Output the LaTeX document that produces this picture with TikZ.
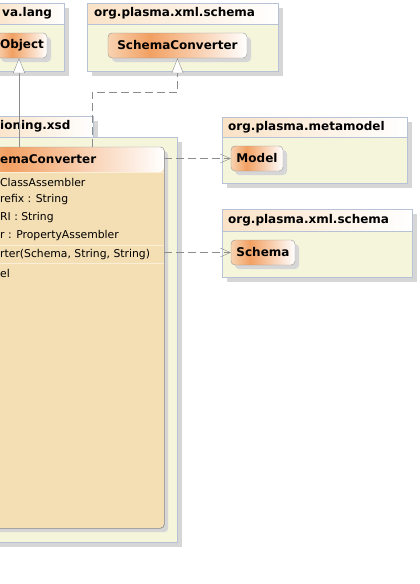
\documentclass[tikz,border=0pt]{standalone}
\usepackage{fontspec}
\setmainfont{DejaVu Sans}
\usepackage{tikz}
\usetikzlibrary{positioning, arrows.meta, shadows}
\usepackage{xcolor}
\definecolor{pkgFill}{RGB}{245,245,220}
\definecolor{pkgLine}{RGB}{184,194,214}
\definecolor{tabTint}{RGB}{250,226,198}
\definecolor{clsLine}{RGB}{150,150,150}
\definecolor{clsBody}{RGB}{244,222,180}
\definecolor{clsSep}{RGB}{250,238,214}
\definecolor{hdrLight}{RGB}{248,210,176}
\definecolor{hdrDeep}{RGB}{242,160,98}
\definecolor{shadowGray}{RGB}{214,214,214}
\definecolor{linkGray}{RGB}{140,140,140}
\pgfdeclarehorizontalshading{classhead}{100bp}{color(0bp)=(hdrLight); color(25bp)=(hdrLight); color(40bp)=(hdrDeep); color(75bp)=(white); color(100bp)=(white)}

\begin{document}
\begin{tikzpicture}[x=1pt, y=-1pt, font=\fontsize{12}{14}\selectfont\bfseries,
  pkg/.style={draw=pkgLine, fill=pkgFill,
    drop shadow={shadow xshift=5pt, shadow yshift=-5pt, fill=shadowGray, opacity=1}},
  pkgtab/.style={pkg, left color=tabTint, right color=white},
  tablabel/.style={anchor=west, inner sep=0pt},
  classbox/.style={draw=clsLine, rounded corners=4pt, shade, shading=classhead,
    minimum height=25pt, inner sep=0pt,
    drop shadow={shadow xshift=4pt, shadow yshift=-4pt, fill=shadowGray, opacity=1}},
  bigclass/.style={draw=clsLine, fill=clsBody, rounded corners=4pt,
    drop shadow={shadow xshift=4pt, shadow yshift=-4pt, fill=shadowGray, opacity=1}},
  member/.style={anchor=west, inner sep=0pt, font=\fontsize{10.8}{13}\selectfont},
  gen/.style={draw=linkGray, -{Triangle[length=15pt, width=12pt, fill=white]}},
  real/.style={gen, dash pattern=on 8pt off 4pt},
  dep/.style={draw=linkGray, dash pattern=on 8pt off 4pt, -{Straight Barb[length=10pt, width=9pt]}}]
  \useasboundingbox (0,0) rectangle (420,584);
  \clip (0,0) rectangle (420,584);

  % packages
  \draw[pkgtab] (-10,3) rectangle (64,24);
  \draw[pkg] (-10,24) rectangle (64,71);
  \node[tablabel] (langlbl) at (2,13.5) {va.lang};

  \draw[pkgtab] (87,3) rectangle (278,24);
  \draw[pkg] (87,24) rectangle (278,71);
  \node[tablabel] (xmltoplbl) at (94,13.5) {org.plasma.xml.schema};

  \draw[pkgtab] (-10,116) rectangle (93,137);
  \draw[pkg] (-10,137) rectangle (177,542);
  \node[tablabel] (xsdlbl) at (0,126.5) {ioning.xsd};

  \draw[pkgtab] (222,117) rectangle (407,137);
  \draw[pkg] (222,137) rectangle (407,183);
  \node[tablabel] (metalbl) at (228,127) {org.plasma.metamodel};

  \draw[pkgtab] (222,209) rectangle (412,231);
  \draw[pkg] (222,231) rectangle (412,277);
  \node[tablabel] (xmllbl) at (228,220) {org.plasma.xml.schema};

  % classes
  \node[classbox, minimum width=50pt] (object) at (22,45.5) {Object};
  \node[classbox, minimum width=139pt] (sconv) at (177.5,45.5) {SchemaConverter};
  \node[classbox, minimum width=52pt] (model) at (257,158.5) {Model};
  \node[classbox, minimum width=64pt] (schema) at (263,252.5) {Schema};

  \node[bigclass, minimum width=224pt, minimum height=381pt, anchor=north west] (conv) at (-60,147) {};
  \shade[shading=classhead, rounded corners=4pt] (conv.north west) rectangle (164,172);
  \draw[clsSep] (-60,172) -- (164,172);
  \draw[clsSep] (-60,245) -- (164,245);
  \draw[clsSep] (-60,263.5) -- (164,263.5);
  \draw[clsLine, rounded corners=4pt] (conv.north west) rectangle (conv.south east);
  \node[tablabel] (convname) at (0,159.5) {emaConverter};
  \node[member] (m1) at (0,182) {ClassAssembler};
  \node[member] (m2) at (0,200) {refix : String};
  \node[member] (m3) at (0,218) {RI : String};
  \node[member] (m4) at (0,236) {r : PropertyAssembler};
  \node[member] (m5) at (0,254.5) {rter(Schema, String, String)};
  \node[member] (m6) at (0,273) {el};

  % relations
  \coordinate (gtip) at ([xshift=-3pt]object.south);
  \coordinate (bend) at (92,92);
  \draw[gen] (conv.north -| gtip) -- (gtip);
  \draw[real] (conv.north -| bend) -- (bend) -| (sconv.south);
  \draw[dep] (conv.east |- model.west) -- (model.west);
  \draw[dep] (conv.east |- schema.west) -- (schema.west);
\end{tikzpicture}
\end{document}
